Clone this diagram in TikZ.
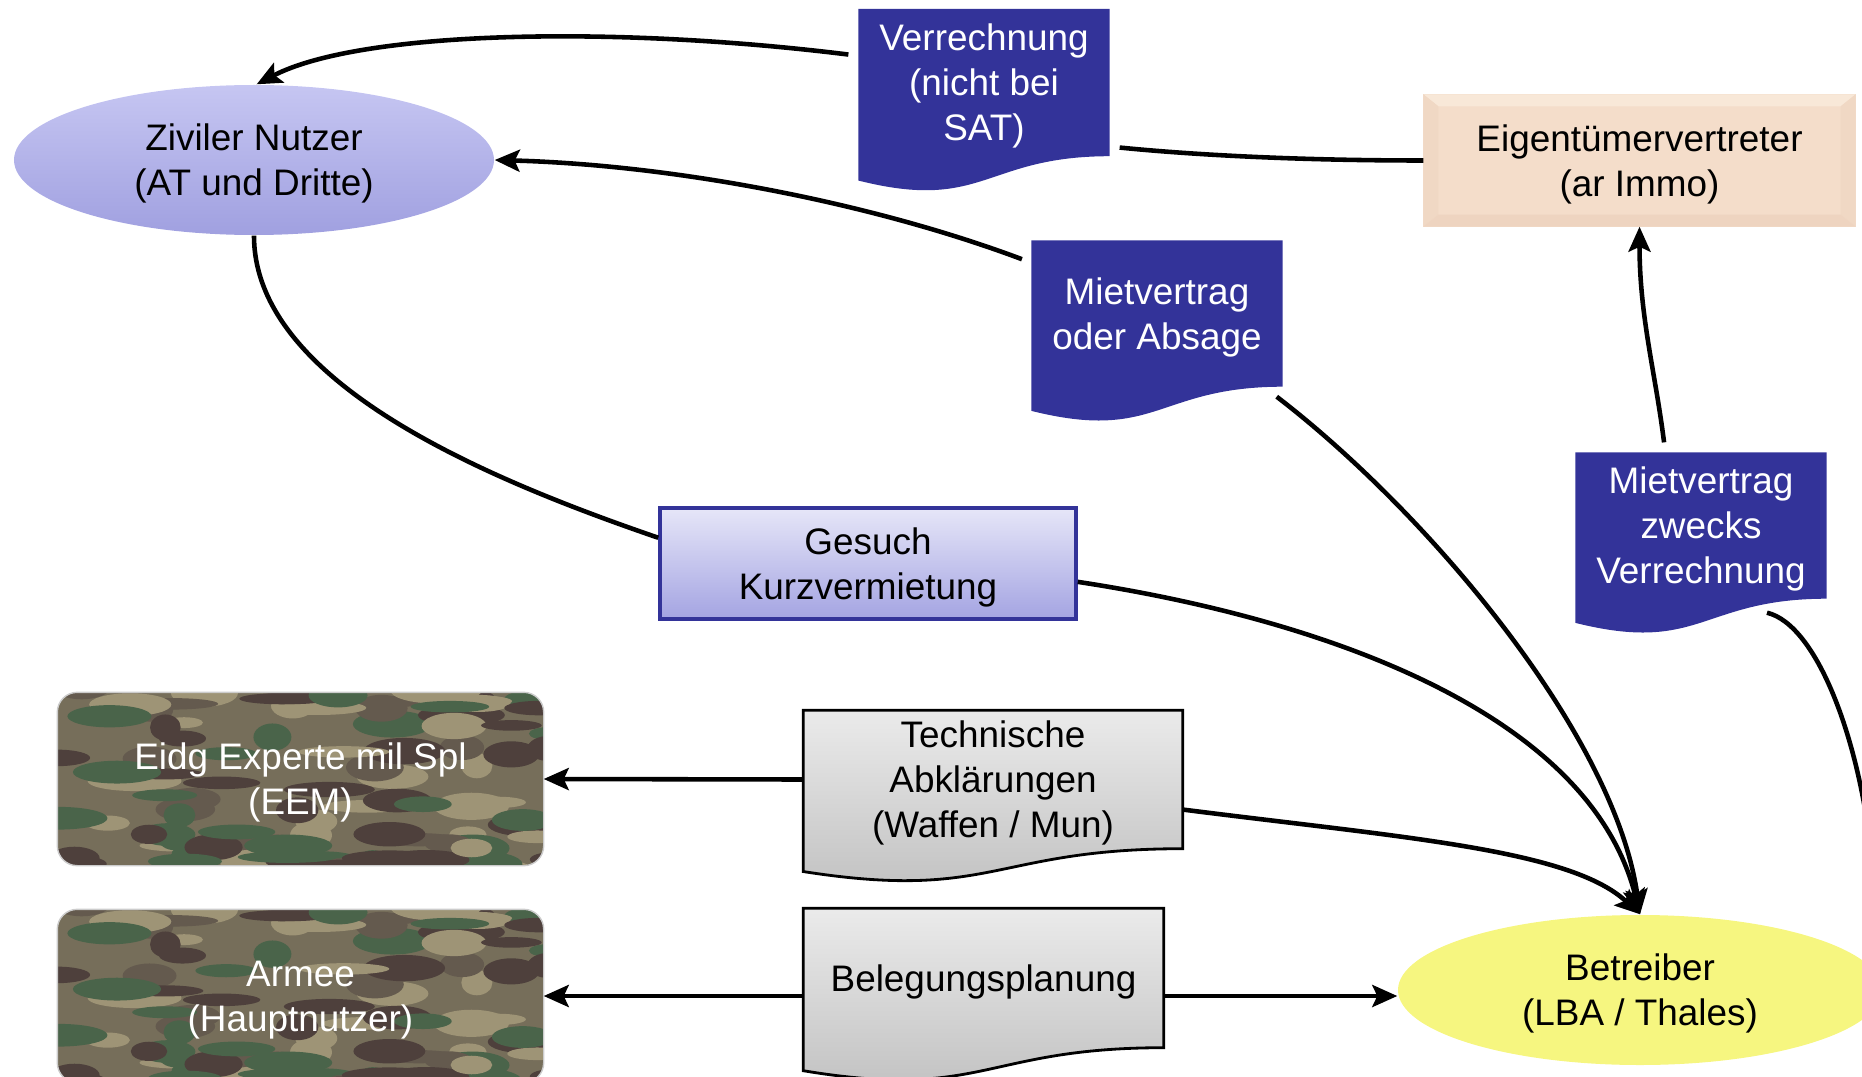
\documentclass[tikz,border=0pt]{standalone}
\usepackage{fontspec}
\setmainfont{Liberation Sans}
\usetikzlibrary{shapes.geometric,arrows.meta,calc,backgrounds}

\definecolor{docblue}{RGB}{51,51,153}
\definecolor{zivtop}{RGB}{198,198,242}
\definecolor{zivbot}{RGB}{160,160,224}
\definecolor{gestop}{RGB}{230,230,248}
\definecolor{gesbot}{RGB}{164,164,226}
\definecolor{eigmain}{RGB}{244,221,202}
\definecolor{eigtop}{RGB}{248,232,216}
\definecolor{eigside}{RGB}{240,216,196}
\definecolor{eigbot}{RGB}{238,212,192}
\definecolor{betyellow}{RGB}{246,246,128}
\definecolor{camobase}{RGB}{118,110,90}
\definecolor{camolight}{RGB}{158,148,118}
\definecolor{camodark}{RGB}{78,64,60}
\definecolor{camogreen}{RGB}{74,100,74}
\definecolor{camomid}{RGB}{100,90,78}

% outline of a document symbol round a node
\newcommand{\docpath}[1]{(#1.north west) -- (#1.north east) -- (#1.south east)
  .. controls (#1.south) and ($(#1.south)!-0.38!(#1.north)$) .. ($(#1.south west)!-0.165!(#1.north west)$) -- cycle}

% camouflage filling
\newcommand{\camofill}[1]{%
  \fill[camobase, rounded corners=2mm] (#1.south west) rectangle (#1.north east);
  \begin{scope}
    \clip[rounded corners=2mm] (#1.south west) rectangle (#1.north east);
    \pgfmathsetseed{17}
    \foreach \camcol in {camolight,camogreen,camomid,camodark,camolight,camodark,camogreen}{
      \foreach \k in {1,...,14}{
        \pgfmathsetmacro{\px}{rnd*5.1-0.12}
        \pgfmathsetmacro{\py}{rnd*1.85-0.06}
        \pgfmathsetmacro{\rx}{0.15+0.35*rnd}
        \pgfmathsetmacro{\ry}{0.05+0.09*rnd}
        \fill[fill=\camcol] ($(#1.south west)+(\px,\py)$) ellipse (\rx cm and \ry cm);}}
  \end{scope}
  \draw[gray!40, rounded corners=2mm] (#1.south west) rectangle (#1.north east);}

\tikzset{
  every node/.append style={text depth=-0.5pt},
  arr/.style={line width=1.3pt, -{Stealth[length=2.5mm,width=2.2mm,inset=0.5mm]}},
  con/.style={line width=1.3pt},
  zivil/.style={ellipse, minimum width=4.8cm, minimum height=1.5cm, inner sep=0pt, align=center,
    top color=zivtop, bottom color=zivbot},
  betr/.style={ellipse, minimum width=4.84cm, minimum height=1.5cm, inner sep=0pt, align=center,
    fill=betyellow},
  bluedoc/.style={minimum width=2.5cm, inner sep=0pt, align=center, text=white},
  graydoc/.style={inner sep=0pt, align=center},
  eigbox/.style={minimum width=4.31cm, minimum height=1.31cm, inner sep=0pt, align=center},
  gesuch/.style={minimum width=4.16cm, minimum height=1.11cm, inner sep=0pt, align=center,
    draw=docblue, line width=1pt, top color=gestop, bottom color=gesbot},
  camobox/.style={minimum width=4.85cm, minimum height=1.72cm, inner sep=0pt, align=center, text=white}
}

\begin{document}
\begin{tikzpicture}[font=\fontsize{10.5}{12.8}\selectfont]
  \useasboundingbox (0,0) rectangle (18.62,-10.77);
  \clip (0,0) rectangle (18.62,-10.77);

  \node[zivil] (ziv) at (2.54,-1.60) {Ziviler Nutzer\\(AT und Dritte)};
  \node[bluedoc, minimum height=1.46cm] (ver) at (9.84,-0.825) {Verrechnung\\(nicht bei\\SAT)};
  \node[eigbox] (eig) at (16.395,-1.605) {Eigentümervertreter\\(ar Immo)};
  \node[bluedoc, minimum height=1.45cm] (mva) at (11.57,-3.135) {Mietvertrag\\oder Absage};
  \node[bluedoc, minimum height=1.45cm] (mvz) at (17.01,-5.255) {Mietvertrag\\zwecks\\Verrechnung};
  \node[gesuch] (ges) at (8.68,-5.635) {Gesuch\\Kurzvermietung};
  \node[camobox] (eem) at (3.005,-7.79) {Eidg Experte mil Spl\\(EEM)};
  \node[camobox] (arm) at (3.005,-9.96) {Armee\\(Hauptnutzer)};
  \node[graydoc, minimum width=3.78cm, minimum height=1.37cm] (tech) at (9.93,-7.795) {Technische\\Abklärungen\\(Waffen / Mun)};
  \node[graydoc, minimum width=3.59cm, minimum height=1.38cm] (bel) at (9.835,-9.78) {Belegungsplanung};
  \node[betr] (bet) at (16.40,-9.90) {Betreiber\\(LBA / Thales)};
  \coordinate (offright) at (18.72,-8.6);

  \begin{pgfonlayer}{background}
    \foreach \d in {ver,mva,mvz}{
      \fill[docblue] \docpath{\d};}
    \foreach \d in {tech,bel}{
      \path[draw=black, line width=0.8pt, top color=black!8, bottom color=black!25] \docpath{\d};}
    \camofill{eem}
    \camofill{arm}
    \fill[eigmain] (eig.south west) rectangle (eig.north east);
    \fill[eigtop] (eig.north west) -- (eig.north east) -- ($(eig.north east)+(-0.15,-0.12)$) -- ($(eig.north west)+(0.15,-0.12)$) -- cycle;
    \fill[eigside] (eig.north west) -- ($(eig.north west)+(0.15,-0.12)$) -- ($(eig.south west)+(0.15,0.12)$) -- (eig.south west) -- cycle;
    \fill[eigside] (eig.north east) -- ($(eig.north east)+(-0.15,-0.12)$) -- ($(eig.south east)+(-0.15,0.12)$) -- (eig.south east) -- cycle;
    \fill[eigbot] (eig.south west) -- ($(eig.south west)+(0.15,0.12)$) -- ($(eig.south east)+(-0.15,0.12)$) -- (eig.south east) -- cycle;
  \end{pgfonlayer}

  \draw[arr, shorten <=1mm] (ver.168) .. controls +(-2.5,0.31) and +(1.02,0.53) .. (ziv.88);
  \draw[con, shorten >=1mm] (eig.west) .. controls +(-1.3,0) and +(0.8,-0.08) .. (ver.-27);
  \draw[arr, shorten <=1mm] (mva.158) .. controls +(-1.6,0.6) and +(1.8,-0.05) .. (ziv.east);
  \draw[con] (ziv.south) .. controls +(0,-1.5) and +(-1.6,0.55) .. (ges.173);
  \draw[arr] (tech.-9) .. controls +(2.2,-0.28) and +(-0.7,0.65) .. (bet.north);
  \draw[arr] (ges.-5) .. controls +(2.5,-0.38) and +(-0.5,2.0) .. (bet.north);
  \draw[arr] ($(mva.south east)+(-0.06,-0.1)$) .. controls +(1.5,-1.15) and +(-0.25,1.8) .. (bet.north);
  \draw[arr, shorten <=1mm] (mvz.116) .. controls +(-0.1,0.8) and +(0,-0.9) .. (eig.south);
  \draw[con] ($(mvz.south)+(0.66,-0.14)$) .. controls +(0.5,-0.12) and +(-0.12,1.2) .. (offright);
  \draw[arr] (tech.west) -- (eem.east);
  \draw[arr] (bel.west |- arm.east) -- (arm.east);
  \draw[arr] (bel.east |- arm.east) -- (bet.west |- arm.east);
\end{tikzpicture}
\end{document}
